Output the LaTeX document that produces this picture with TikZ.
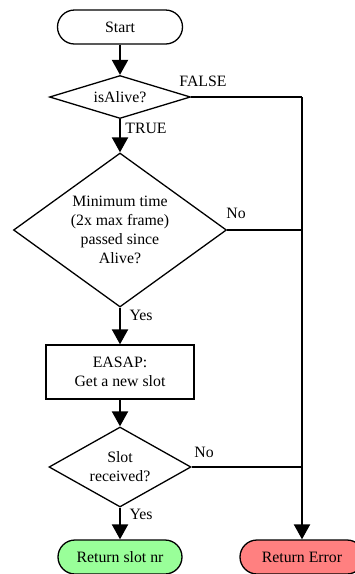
\documentclass[tikz,border=0pt]{standalone}
\usepackage{fontspec}
\setmainfont{Liberation Serif}
\usetikzlibrary{shapes.geometric,arrows.meta}
\definecolor{okgreen}{HTML}{99FF99}
\definecolor{errred}{HTML}{FF8080}
\begin{document}
\begin{tikzpicture}[x=1pt,y=-1pt,
  font=\fontsize{15.8}{19}\selectfont,
  terminal/.style={draw,line width=1.3pt,rounded corners=17pt,minimum height=34pt,inner sep=0pt,align=center},
  decision/.style={draw,diamond,line width=1.3pt,inner sep=0pt,align=center},
  process/.style={draw,rectangle,line width=1.3pt,inner sep=0pt,align=center},
  flow/.style={line width=2.2pt,-{Triangle[width=16pt,length=15pt]}},
  plain/.style={line width=2.2pt},
  lbl/.style={inner sep=0pt}]
\useasboundingbox (0,0) rectangle (355,574);

% flow nodes
\node[terminal,minimum width=125pt] (start) at (120,27) {Start};
\node[decision,minimum width=141pt,minimum height=43pt,aspect=3.28] (alive) at (120,97) {isAlive?};
\node[decision,minimum width=213pt,minimum height=154pt,aspect=1.38] (mintime) at (120,230)
  {Minimum time\\(2x max frame)\\passed since\\Alive?};
\node[process,minimum width=148pt,minimum height=54pt] (easap) at (120,372) {EASAP:\\Get a new slot};
\node[decision,minimum width=142pt,minimum height=80pt,aspect=1.78] (slot) at (120,467) {Slot\\received?};
\node[terminal,fill=okgreen,minimum width=124pt] (retok) at (120,557) {Return slot nr};
\node[terminal,fill=errred,minimum width=124pt] (reterr) at (302,557) {Return Error};

% error path junctions
\coordinate (c1) at (302,97);
\coordinate (c2) at (302,230);
\coordinate (c3) at (302,467);

% connectors
\draw[flow] (start) -- (alive);
\draw[flow] (alive) -- (mintime);
\draw[flow] (mintime) -- (easap);
\draw[flow] (easap) -- (slot);
\draw[flow] (slot) -- (retok);
\draw[plain] (alive.east) -- (c1);
\draw[flow] (c1) -- (reterr);
\draw[plain] (mintime.east) -- (c2);
\draw[plain] (slot.east) -- (c3);

% branch labels
\node[lbl] at (203,81) {FALSE};
\node[lbl] at (146,128) {TRUE};
\node[lbl] at (236,213) {No};
\node[lbl] at (141,315) {Yes};
\node[lbl] at (204,452) {No};
\node[lbl] at (141,514) {Yes};
\end{tikzpicture}
\end{document}
